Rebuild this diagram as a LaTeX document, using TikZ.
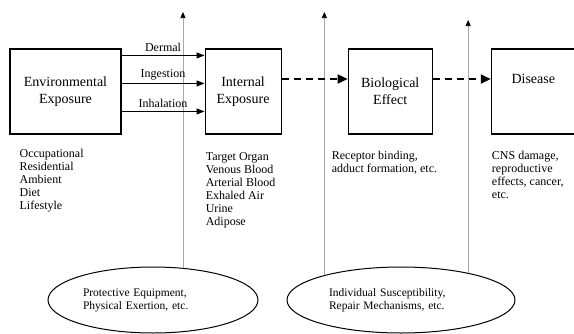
\documentclass[tikz,border=0pt]{standalone}
\usepackage{fontspec}
\setmainfont{Liberation Serif}
\usetikzlibrary{positioning,calc,arrows.meta,shapes.geometric}

\tikzset{
  box/.style={draw, line width=1.1pt, minimum height=85pt, inner sep=0pt, align=center, font=\fontsize{14}{17}\selectfont},
  route/.style={-{Triangle[length=8pt,width=6pt]}, line width=0.9pt},
  flow/.style={-{Triangle[length=10pt,width=9pt]}, line width=1.8pt, dash pattern=on 7pt off 5pt},
  modarrow/.style={-{Triangle[length=6pt,width=5pt,color=black]}, gray!70, line width=0.6pt},
  factor/.style={draw, ellipse, line width=1pt, inner sep=0pt, text width=140pt, align=left, font=\fontsize{11.5}{13}\selectfont},
  note/.style={anchor=north west, inner sep=0pt, align=left, font=\fontsize{12}{13}\selectfont},
}

\begin{document}
\begin{tikzpicture}[x=1pt, y=-1pt]
  \useasboundingbox (0,0) rectangle (574,333);

  % stages
  \node[box, minimum width=111pt] (env) at (65.5,91.5) {Environmental\\Exposure};
  \node[box, minimum width=76pt, right=83pt of env] (int) {Internal\\Exposure};
  \node[box, minimum width=84pt, right=66pt of int] (bio) {Biological\\Effect};
  \node[box, minimum width=84pt, text depth=25pt, right=58pt of bio] (dis) {Disease};

  % examples under each stage
  \node[note] (envlist) at ($(env.south west)+(10,14)$) {Occupational\\Residential\\Ambient\\Diet\\Lifestyle};
  \node[note] (intlist) at ($(int.south west)+(1,18)$) {Target Organ\\Venous Blood\\Arterial Blood\\Exhaled Air\\Urine\\Adipose};
  \node[note] (biolist) at ($(bio.south west)+(-16,16)$) {Receptor binding,\\adduct formation, etc.};
  \node[note] (dislist) at ($(dis.south west)+(1,16)$) {CNS damage,\\reproductive\\effects, cancer,\\etc.};

  % modifying factors
  \node[factor, minimum width=210pt, minimum height=66pt] (prot) at (153,300) {Protective Equipment,\\Physical Exertion, etc.};
  \node[factor, minimum width=228pt, minimum height=66pt, text width=144pt] (susc) at (401,300) {Individual Susceptibility,\\Repair Mechanisms, etc.};

  \coordinate (top1) at (0,12);
  \coordinate (top2) at (0,12);
  \coordinate (top3) at (0,20);
  \draw[modarrow] (prot.47) -- (prot.47 |- top1);
  \draw[modarrow] (susc.162) -- (susc.162 |- top2);
  \draw[modarrow] (susc.22) -- (susc.22 |- top3);

  % routes of exposure
  \foreach \dy/\lbl in {7/Dermal, 35/Ingestion, 63/Inhalation}
    \draw[route] ($(env.north east)+(0,\dy)$) -- node[above, font=\fontsize{12}{13}\selectfont] {\lbl} ($(int.north west)+(0,\dy)$);

  \draw[flow] ($(int.east)+(0,-12.5)$) -- ($(bio.west)+(0,-12.5)$);
  \draw[flow] ($(bio.east)+(0,-12.5)$) -- ($(dis.west)+(0,-12.5)$);
\end{tikzpicture}
\end{document}
